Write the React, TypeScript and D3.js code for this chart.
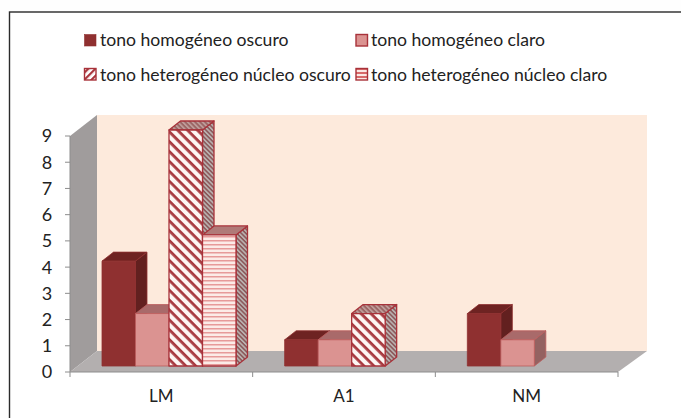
import * as d3 from "d3";

const categories = ["LM", "A1", "NM"];
const seriesNames = [
  "tono homogéneo oscuro",
  "tono homogéneo claro",
  "tono heterogéneo núcleo oscuro",
  "tono heterogéneo núcleo claro",
];
const oscuro = [4, 1, 2];
const claro = [2, 1, 1];
const hetOscuro = [9, 2, 0];
const hetClaro = [5, 0, 0];
const yTicks = [0, 1, 2, 3, 4, 5, 6, 7, 8, 9];

const seriesValues = [oscuro, claro, hetOscuro, hetClaro];

// chart box
const W = 681;
const H = 418;
const left = 70;
const right = 618;
const axisBottom = 372;
const axisTop = 136;
const wallDx = 27;
const wallDy = -21;
const barDx = 11.5;
const barDy = -9;
const barBase = 366;

const x = d3.scaleBand().domain(categories).range([left, right]);
const y = d3.scaleLinear().domain([0, 9]).range([axisBottom, axisTop]);
const barH = d3.scaleLinear().domain([0, 9]).range([0, barBase - 130]);
const barX = d3.scaleBand().domain(d3.range(4).map(String)).range([32, 32 + 134]);

const poly = (pts: [number, number][]) => d3.line()(pts) + "Z";

const faceColors = [
  { front: "#8f3030", top: "#6e2322", side: "#62201f", stroke: "#8f3030" },
  { front: "#db9391", top: "#a96a6a", side: "#946261", stroke: "#bb5c5c" },
  { front: "url(#diag)", top: "url(#diagTop)", side: "url(#diagSide)", stroke: "#a8323a" },
  { front: "url(#horiz)", top: "#b07a78", side: "url(#diagSide)", stroke: "#a8323a" },
];

const legendPos = [
  { x: 84.5, y: 34.5, tx: 100, base: 45.5 },
  { x: 356, y: 34.5, tx: 371, base: 45.5 },
  { x: 84.5, y: 68.5, tx: 100, base: 80.5 },
  { x: 356, y: 68.5, tx: 371, base: 80.5 },
];
const legendFill = ["#8f3030", "#db9391", "url(#diagLegend)", "url(#horizLegend)"];

const font = "Lato, 'Open Sans', sans-serif";

export default function App() {
  return (
    <svg
      width={W}
      height={H}
      viewBox={`0 0 ${W} ${H}`}
      style={{ position: "absolute", left: 0, top: 0, display: "block" }}
      fontFamily={font}
    >
      <defs>
        <pattern id="diag" width="7" height="7" patternUnits="userSpaceOnUse" patternTransform="rotate(45)">
          <rect width="7" height="7" fill="#fdf6f3" />
          <rect width="7" height="2.8" fill="#a83a40" />
        </pattern>
        <pattern id="diagTop" width="3.5" height="3.5" patternUnits="userSpaceOnUse" patternTransform="rotate(45)">
          <rect width="3.5" height="3.5" fill="#bd9a98" />
          <rect width="3.5" height="1.6" fill="#98605f" />
        </pattern>
        <pattern id="diagSide" width="3.2" height="3.2" patternUnits="userSpaceOnUse" patternTransform="rotate(45)">
          <rect width="3.2" height="3.2" fill="#b9b0ae" />
          <rect width="3.2" height="1.5" fill="#8a5557" />
        </pattern>
        <pattern id="horiz" width="4" height="4" patternUnits="userSpaceOnUse">
          <rect width="4" height="4" fill="#fcebe7" />
          <rect width="4" height="1.5" fill="#e79a99" />
        </pattern>
        <pattern id="diagLegend" width="5" height="5" patternUnits="userSpaceOnUse" patternTransform="rotate(-45)">
          <rect width="5" height="5" fill="#fff" />
          <rect width="5" height="2.2" fill="#a8323a" />
        </pattern>
        <pattern id="horizLegend" width="4" height="4" patternUnits="userSpaceOnUse">
          <rect width="4" height="4" fill="#fbe9e5" />
          <rect width="4" height="2" fill="#d76a6a" />
        </pattern>
      </defs>

      <rect width={W} height={H} fill="#fefefe" />
      {/* frame runs off the right and bottom of the picture */}
      <rect x={9.5} y={12} width={690} height={420} fill="#fff" stroke="#2a2a2a" strokeWidth={1.4} />

      {/* legend */}
      {seriesNames.map((name, i) => (
        <g key={name}>
          <rect
            x={legendPos[i].x}
            y={legendPos[i].y}
            width={11.5}
            height={11.5}
            fill={legendFill[i]}
            stroke={i === 0 ? "#8f3030" : "#a8323a"}
            strokeWidth={i === 0 ? 0.6 : 1.4}
          />
          <text x={legendPos[i].tx} y={legendPos[i].base} fontSize={17.6} fill="#222">
            {name}
          </text>
        </g>
      ))}

      {/* walls and floor */}
      <path
        d={poly([
          [left + wallDx, axisTop + wallDy],
          [right + wallDx + 2, axisTop + wallDy],
          [right + wallDx + 2, axisBottom + wallDy],
          [left + wallDx, axisBottom + wallDy],
        ])}
        fill="#fdeadc"
      />
      <path
        d={poly([
          [left, axisTop],
          [left + wallDx, axisTop + wallDy],
          [left + wallDx, axisBottom + wallDy],
          [left, axisBottom],
        ])}
        fill="#a09c9c"
      />
      <path
        d={poly([
          [left, axisBottom],
          [left + wallDx, axisBottom + wallDy],
          [right + wallDx + 2, axisBottom + wallDy],
          [right, axisBottom],
        ])}
        fill="#b3afaf"
      />

      {/* y axis */}
      <line x1={left} x2={left} y1={axisTop} y2={axisBottom} stroke="#8d8d8d" />
      {yTicks.map((t) => (
        <g key={t}>
          <line x1={left - 5} x2={left} y1={y(t)} y2={y(t)} stroke="#8d8d8d" />
          <text x={47} y={y(t)} dy="0.36em" fontSize={18} textAnchor="middle" fill="#222">
            {t}
          </text>
        </g>
      ))}

      {/* x axis */}
      <line x1={left} x2={right} y1={axisBottom} y2={axisBottom} stroke="#8d8d8d" />
      {[...categories.map((c) => x(c)!), right].map((px) => (
        <line key={px} x1={px} x2={px} y1={axisBottom} y2={axisBottom + 5} stroke="#8d8d8d" />
      ))}
      {categories.map((c) => (
        <text key={c} x={x(c)! + x.bandwidth() / 2} y={402} fontSize={17} textAnchor="middle" fill="#222">
          {c}
        </text>
      ))}

      {/* bars, drawn back to front from left to right */}
      {categories.map((c, ci) =>
        seriesValues.map((vals, si) => {
          const v = vals[ci];
          if (!v) return null;
          const x0 = x(c)! + barX(String(si))!;
          const x1 = x0 + barX.bandwidth();
          const yTop = barBase - barH(v);
          const col = faceColors[si];
          return (
            <g key={c + si} stroke={col.stroke} strokeWidth={si > 1 ? 1.3 : 0.8} strokeLinejoin="round">
              <path
                d={poly([
                  [x1, yTop],
                  [x1 + barDx, yTop + barDy],
                  [x1 + barDx, barBase + barDy],
                  [x1, barBase],
                ])}
                fill={col.side}
              />
              <path
                d={poly([
                  [x0, yTop],
                  [x0 + barDx, yTop + barDy],
                  [x1 + barDx, yTop + barDy],
                  [x1, yTop],
                ])}
                fill={col.top}
              />
              <rect x={x0} y={yTop} width={x1 - x0} height={barBase - yTop} fill={col.front} />
            </g>
          );
        }),
      )}
    </svg>
  );
}
